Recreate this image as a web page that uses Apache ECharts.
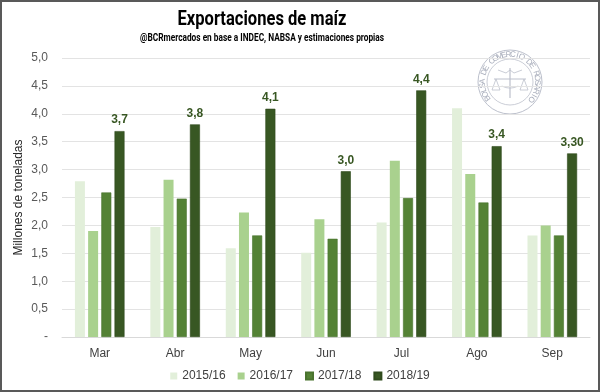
<!DOCTYPE html>
<html><head><meta charset="utf-8">
<script src="https://cdn.jsdelivr.net/npm/echarts@6/dist/echarts.min.js"></script>
<style>html,body{margin:0;padding:0;background:#fff}#c{width:600px;height:392px}</style>
</head><body><div id="c"></div>
<script>
const categories = ['Mar','Abr','May','Jun','Jul','Ago','Sep'];
const seriesNames = ['2015/16','2016/17','2017/18','2018/19'];
const v1516 = [2.79, 1.97, 1.59, 1.51, 2.05, 4.10, 1.82];
const v1617 = [1.90, 2.82, 2.23, 2.11, 3.16, 2.92, 2.00];
const v1718 = [2.59, 2.48, 1.82, 1.76, 2.49, 2.41, 1.82];
const v1819 = [3.69, 3.81, 4.09, 2.97, 4.42, 3.42, 3.29];
const labels1819 = ['3,7','3,8','4,1','3,0','4,4','3,4','3,30'];
const yTicks = [0, 0.5, 1, 1.5, 2, 2.5, 3, 3.5, 4, 4.5, 5];
const colors = ['#E2EFDA','#A9D18E','#548235','#385723'];
const values = [v1516, v1617, v1718, v1819];
const titleText = 'Exportaciones de maíz';
const subtitleText = '@BCRmercados en base a INDEC, NABSA y estimaciones propias';

const chart = echarts.init(document.getElementById('c'), null, {renderer:'canvas'});

// condensed title via horizontal scaling
const mctx = document.createElement('canvas').getContext('2d');
function fitScale(text, font, target) {
  mctx.font = font;
  return target / mctx.measureText(text).width;
}
const titleFont = 'bold 20px Roboto';
const subFont = 'bold 11px Roboto';
const titleEls = [
  {type:'text', x:262, y:20, scaleX: fitScale(titleText, titleFont, 169), z:5,
   style:{text:titleText, font:titleFont, fill:'#000', align:'center', verticalAlign:'middle'}},
  {type:'text', x:262, y:38, scaleX: fitScale(subtitleText, subFont, 244), z:5,
   style:{text:subtitleText, font:subFont, fill:'#000', align:'center', verticalAlign:'middle'}}
];

// watermark seal
const sealText = 'BOLSA DE COMERCIO DE ROSARIO';
const cx = 510, cy = 82, rText = 27.5;
const sc = '#bcc0cc';
const sealEls = [
  {type:'circle', shape:{cx:cx, cy:cy, r:32}, style:{fill:'none', stroke:sc, lineWidth:1}, z:0},
  {type:'circle', shape:{cx:cx, cy:cy, r:23}, style:{fill:'none', stroke:sc, lineWidth:0.8}, z:0},
  {type:'line', shape:{x1:cx-16, y1:cy-3, x2:cx+16, y2:cy-3}, style:{stroke:sc, lineWidth:1}, z:0},
  {type:'line', shape:{x1:cx, y1:cy-14, x2:cx, y2:cy+16}, style:{stroke:sc, lineWidth:1.2}, z:0},
  {type:'polyline', shape:{points:[[cx-14,cy-3],[cx-18,cy+8],[cx-10,cy+8],[cx-14,cy-3]]}, style:{fill:'none', stroke:sc, lineWidth:0.8}, z:0},
  {type:'polyline', shape:{points:[[cx+14,cy-3],[cx+10,cy+8],[cx+18,cy+8],[cx+14,cy-3]]}, style:{fill:'none', stroke:sc, lineWidth:0.8}, z:0},
  {type:'polyline', shape:{points:[[cx-12,cy-12],[cx-4,cy-9],[cx,cy-12],[cx+4,cy-9],[cx+12,cy-12]]}, style:{fill:'none', stroke:sc, lineWidth:0.8}, z:0},
  {type:'arc', shape:{cx:cx, cy:cy-12, r:18, startAngle:Math.PI*0.35, endAngle:Math.PI*0.65}, style:{fill:'none', stroke:sc, lineWidth:0.8}, z:0}
];
const a0 = -126, a1 = 129;
for (let i = 0; i < sealText.length; i++) {
  const th = (a0 + (a1 - a0) * i / (sealText.length - 1)) * Math.PI / 180;
  sealEls.push({
    type:'text', x: cx + rText * Math.sin(th), y: cy - rText * Math.cos(th), rotation: -th, z:0,
    style:{text: sealText[i], fill:'#a8adbb', font:'8px "Liberation Sans"', align:'center', verticalAlign:'middle'}
  });
}

const series = seriesNames.map((name, si) => ({
  name: name,
  type: 'bar',
  data: values[si],
  barWidth: 10,
  barGap: '32%',
  z: 3,
  itemStyle: {color: colors[si], borderColor: si === 3 ? '#2f4a1d' : (si === 2 ? '#4a742f' : colors[si]), borderWidth: si >= 2 ? 0.6 : 0},
  label: si === 3 ? {
    show: true, position: 'top', distance: 5,
    formatter: p => labels1819[p.dataIndex],
    color: '#385723', fontWeight: 'bold', fontSize: 12, fontFamily: 'Liberation Sans'
  } : {show: false}
}));

chart.setOption({
  animation: false,
  backgroundColor: '#ffffff',
  legend: {
    data: seriesNames, bottom: 5, left: 'center', itemWidth: 7, itemHeight: 7, itemGap: 12,
    icon: 'rect',
    textStyle: {fontFamily: 'Liberation Sans', fontSize: 12, color: '#404040'}
  },
  grid: {left: 62, right: 10, top: 58, bottom: 55},
  xAxis: {
    type: 'category', data: categories,
    axisLine: {show: true, lineStyle: {color: '#d9d9d9'}},
    axisTick: {show: false},
    axisLabel: {color: '#404040', fontSize: 12, fontFamily: 'Liberation Sans', margin: 11}
  },
  yAxis: {
    type: 'value', min: 0, max: 5, interval: 0.5,
    name: 'Millones de toneladas', nameLocation: 'middle', nameGap: 37, nameMoveOverlap: false,
    nameTextStyle: {color: '#262626', fontSize: 12, fontFamily: 'Liberation Sans'},
    axisLine: {show: false}, axisTick: {show: false},
    splitLine: {lineStyle: {color: '#e3e3e3'}},
    axisLabel: {color: '#595959', fontSize: 12, fontFamily: 'Liberation Sans', margin: 14,
      formatter: v => v === yTicks[0] ? '-' : v.toFixed(1).replace('.', ',')}
  },
  graphic: titleEls.concat(sealEls, [
    {type:'rect', shape:{x:1, y:1, width:598, height:390}, style:{fill:'none', stroke:'#595959', lineWidth:2}, z:10}
  ]),
  series: series
});
</script></body></html>
